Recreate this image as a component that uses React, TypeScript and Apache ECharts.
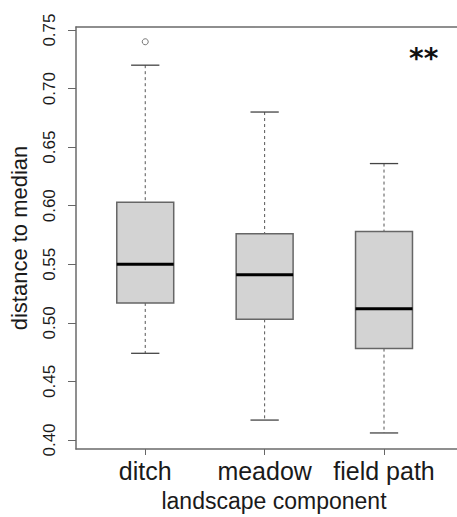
import React, { useEffect, useRef } from 'react';
import * as echarts from 'echarts';

// ---- data ----
const categories = ['ditch', 'meadow', 'field path'];
const lowerWhisker = [0.474, 0.417, 0.406];
const q1 = [0.517, 0.503, 0.478];
const median = [0.550, 0.541, 0.512];
const q3 = [0.603, 0.576, 0.578];
const upperWhisker = [0.720, 0.680, 0.636];
const outlierCategory = [1];
const outlierValue = [0.740];
const yTicks = [0.40, 0.45, 0.50, 0.55, 0.60, 0.65, 0.70, 0.75];
const categoryPositions = [1, 2, 3];
const significance = '**';

const FONT = '"Liberation Sans", Arial, Helvetica, sans-serif';
const BOX_W = 0.477;
const CAP_W = 0.237;
const FRAME = { color: '#6a6a6a', width: 1.5 };

export default function App() {
  const ref = useRef<HTMLDivElement>(null);
  useEffect(() => {
    if (!ref.current) return;
    const chart = echarts.init(ref.current, undefined, { renderer: 'svg' });
    const boxData = categories.map((_, i) => [
      categoryPositions[i], lowerWhisker[i], q1[i], median[i], q3[i], upperWhisker[i],
    ]);
    const outlierData = outlierCategory.map((c, i) => [c, outlierValue[i]]);

    const option: any = {
      animation: false,
      backgroundColor: '#ffffff',
      grid: {
        left: 76, top: 27, width: 396, height: 422,
        outerBoundsMode: 'none', containLabel: false,
        show: false,
      },
      xAxis: [
        {
          type: 'value', min: 0.42, max: 3.737, position: 'bottom',
          splitLine: { show: false },
          axisLine: { show: true, onZero: false, lineStyle: FRAME },
          axisTick: { show: true, customValues: categoryPositions, length: 6, lineStyle: { color: '#666', width: 1 } },
          axisLabel: {
            customValues: categoryPositions,
            formatter: (v: number) => categories[Math.round(v) - 1] ?? '',
            fontSize: 25, fontFamily: FONT, color: '#1a1a1a', margin: 9,
          },
          name: 'landscape component', nameLocation: 'middle', nameGap: 40,
          nameTextStyle: { fontSize: 23, fontFamily: FONT, color: '#1a1a1a' },
        },
        {
          type: 'value', min: 0.42, max: 3.737, position: 'top',
          splitLine: { show: false },
          axisLine: { show: true, onZero: false, lineStyle: FRAME },
          axisTick: { show: false },
          axisLabel: { show: false },
        },
      ],
      yAxis: {
        type: 'value', min: 0.3923, max: 0.7526,
        splitLine: { show: false },
        axisLine: { show: true, onZero: false, lineStyle: FRAME },
        axisTick: { show: true, customValues: yTicks, length: 8, lineStyle: { color: '#666', width: 1 } },
        axisLabel: {
          customValues: yTicks, rotate: 90,
          formatter: (v: number) => v.toFixed(2),
          fontSize: 17, fontFamily: FONT, color: '#1a1a1a', margin: 18,
        },
        name: 'distance to median', nameLocation: 'middle', nameGap: 46,
        nameTextStyle: { fontSize: 22, fontFamily: FONT, color: '#1a1a1a' },
      },
      series: [
        {
          type: 'custom',
          data: boxData,
          xAxisIndex: 0,
          encode: { x: 0, y: [1, 2, 3, 4, 5] },
          renderItem: (params: any, api: any) => {
            const x = api.value(0);
            const lo = api.coord([x, api.value(1)]);
            const a = api.coord([x, api.value(2)]);
            const m = api.coord([x, api.value(3)]);
            const b = api.coord([x, api.value(4)]);
            const hi = api.coord([x, api.value(5)]);
            const cx = lo[0];
            const half = api.size([BOX_W, 0])[0] / 2;
            const capHalf = api.size([CAP_W, 0])[0] / 2;
            const dash = { stroke: '#555', lineWidth: 1, lineDash: [3, 3] };
            const cap = { stroke: '#444', lineWidth: 1.3 };
            return {
              type: 'group',
              children: [
                { type: 'line', shape: { x1: cx, y1: hi[1], x2: cx, y2: b[1] }, style: dash },
                { type: 'line', shape: { x1: cx, y1: a[1], x2: cx, y2: lo[1] }, style: dash },
                { type: 'line', shape: { x1: cx - capHalf, y1: hi[1], x2: cx + capHalf, y2: hi[1] }, style: cap },
                { type: 'line', shape: { x1: cx - capHalf, y1: lo[1], x2: cx + capHalf, y2: lo[1] }, style: cap },
                {
                  type: 'rect',
                  shape: { x: cx - half, y: b[1], width: half * 2, height: a[1] - b[1] },
                  style: { fill: '#d3d3d3', stroke: '#666', lineWidth: 1.5 },
                },
                { type: 'line', shape: { x1: cx - half, y1: m[1], x2: cx + half, y2: m[1] }, style: { stroke: '#000', lineWidth: 3 } },
              ],
            };
          },
        },
        {
          type: 'scatter',
          data: outlierData,
          xAxisIndex: 0,
          symbol: 'circle',
          symbolSize: 6,
          itemStyle: { color: 'rgba(0,0,0,0)', borderColor: '#555', borderWidth: 1 },
        },
      ],
      graphic: [
        {
          type: 'text', x: 409, y: 58,
          style: { text: significance, font: 'bold 28px "DejaVu Sans"', fill: '#111', verticalAlign: 'middle' },
        },
      ],
    };
    chart.setOption(option);
    return () => chart.dispose();
  }, []);
  return <div ref={ref} style={{ position: 'absolute', left: 0, top: 0, width: 457, height: 517 }} />;
}
